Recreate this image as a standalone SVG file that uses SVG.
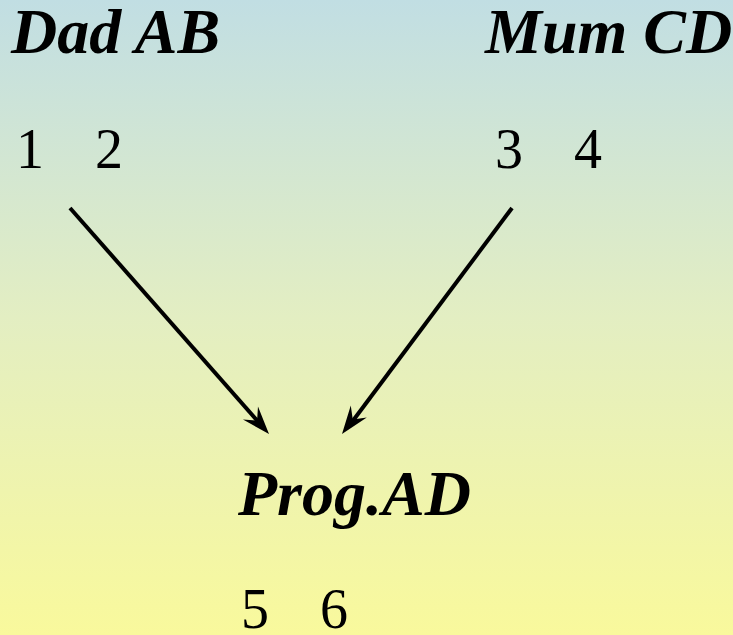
<svg xmlns="http://www.w3.org/2000/svg" width="733" height="635" viewBox="0 0 733 635">
<defs>
<linearGradient id="bg" x1="0" y1="0" x2="0" y2="1">
<stop offset="0" stop-color="#c1dee3"/>
<stop offset="0.5" stop-color="#e3eec2"/>
<stop offset="1" stop-color="#f9f99c"/>
</linearGradient>
<style>
.lbl{font-family:"Liberation Serif","Times New Roman",serif;font-weight:bold;font-style:italic;font-size:64px;fill:#000}
.num{font-family:"Liberation Serif","Times New Roman",serif;font-size:56px;fill:#000}
.con{stroke:#000;stroke-width:4;fill:none}
.head{fill:#000;stroke:none}
</style>
</defs>
<rect width="733" height="635" fill="url(#bg)"/>
<g id="dad">
<text class="lbl" x="11" y="53">Dad AB</text>
<text class="num" x="16" y="168">1</text>
<text class="num" x="95" y="168">2</text>
</g>
<g id="mum">
<text class="lbl" x="485" y="53">Mum CD</text>
<text class="num" x="495" y="168">3</text>
<text class="num" x="574" y="168">4</text>
</g>
<g id="prog">
<text class="lbl" x="238" y="515">Prog.AD</text>
<text class="num" x="241" y="628">5</text>
<text class="num" x="320" y="628">6</text>
</g>
<g id="connectors">
<line class="con" x1="70" y1="208" x2="262" y2="426"/>
<path class="head" d="M0,0 L-28,-10 L-18,0 L-28,10 Z" transform="translate(269,434) rotate(48.6)"/>
<line class="con" x1="512" y1="208" x2="349" y2="426"/>
<path class="head" d="M0,0 L-28,-10 L-18,0 L-28,10 Z" transform="translate(342,434) rotate(126.8)"/>
</g>
</svg>
